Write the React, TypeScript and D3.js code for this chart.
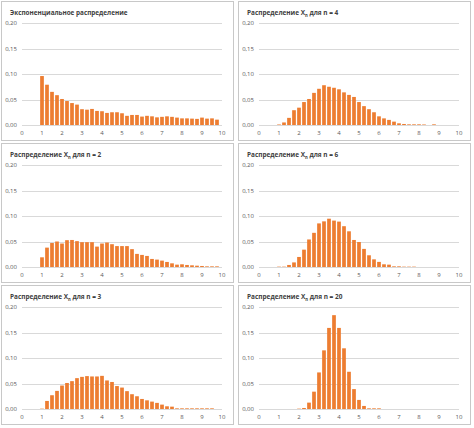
import React, { useLayoutEffect, useRef, useState } from "react";
import * as d3 from "d3";

const bins = [1, 1.25, 1.5, 1.75, 2, 2.25, 2.5, 2.75, 3, 3.25, 3.5, 3.75, 4, 4.25, 4.5, 4.75, 5, 5.25, 5.5, 5.75, 6, 6.25, 6.5, 6.75, 7, 7.25, 7.5, 7.75, 8, 8.25, 8.5, 8.75, 9, 9.25, 9.5, 9.75];

const expValues = [0.096, 0.079, 0.065, 0.0585, 0.051, 0.047, 0.043, 0.040, 0.031, 0.030, 0.0315, 0.0276, 0.027, 0.0237, 0.025, 0.025, 0.023, 0.018, 0.0197, 0.0197, 0.0165, 0.018, 0.017, 0.015, 0.016, 0.017, 0.016, 0.0145, 0.013, 0.013, 0.0125, 0.012, 0.0145, 0.0125, 0.013, 0.0105];
const n2Values = [0.019, 0.038, 0.047, 0.050, 0.046, 0.0526, 0.053, 0.0507, 0.0487, 0.0487, 0.0487, 0.040, 0.046, 0.048, 0.0447, 0.041, 0.041, 0.041, 0.035, 0.0257, 0.0237, 0.0217, 0.0158, 0.0145, 0.0125, 0.0099, 0.0072, 0.0046, 0.0053, 0.004, 0.0033, 0.0026, 0.002, 0.0013, 0.0013, 0.0013];
const n3Values = [0.0007, 0.0158, 0.027, 0.0355, 0.046, 0.051, 0.0546, 0.0605, 0.063, 0.0645, 0.0638, 0.0638, 0.065, 0.056, 0.053, 0.045, 0.042, 0.035, 0.029, 0.025, 0.0197, 0.017, 0.0145, 0.012, 0.0086, 0.0053, 0.0046, 0.0013, 0.0013, 0.0013, 0.0013, 0.0013, 0.0013, 0.0013, 0.0013, 0];
const n4Values = [0.001, 0.005, 0.014, 0.029, 0.034, 0.045, 0.051, 0.063, 0.071, 0.078, 0.075, 0.073, 0.070, 0.064, 0.059, 0.055, 0.045, 0.037, 0.031, 0.025, 0.017, 0.013, 0.010, 0.0066, 0.0033, 0.002, 0.0013, 0.0013, 0.0013, 0.001, 0, 0.0013, 0, 0, 0, 0];
const n6Values = [0.0007, 0.0007, 0.004, 0.009, 0.0197, 0.034, 0.054, 0.067, 0.0855, 0.0895, 0.0947, 0.091, 0.089, 0.080, 0.070, 0.053, 0.049, 0.0355, 0.023, 0.015, 0.010, 0.0053, 0.0046, 0.0013, 0.0013, 0.0007, 0.0007, 0.0007, 0, 0, 0, 0, 0, 0, 0, 0];
const n20Values = [0, 0, 0, 0, 0.0007, 0.002, 0.0125, 0.034, 0.0717, 0.115, 0.159, 0.184, 0.159, 0.119, 0.073, 0.039, 0.0178, 0.006, 0.0013, 0.0013, 0.0013, 0, 0, 0, 0, 0, 0, 0, 0, 0, 0, 0, 0, 0, 0, 0];

const xTicks = [0, 1, 2, 3, 4, 5, 6, 7, 8, 9, 10];
const yTicks = [0, 0.05, 0.1, 0.15, 0.2];

type PanelDef = { title: string | null; n: string | null; values: number[]; titleWidth: number };
const panels: PanelDef[] = [
  { title: "Экспоненциальное распределение", n: null, values: expValues, titleWidth: 118 },
  { title: null, n: "4", values: n4Values, titleWidth: 92 },
  { title: null, n: "2", values: n2Values, titleWidth: 92 },
  { title: null, n: "6", values: n6Values, titleWidth: 92 },
  { title: null, n: "3", values: n3Values, titleWidth: 92 },
  { title: null, n: "20", values: n20Values, titleWidth: 96 },
];

const W = 474;
const H = 428;
const colX = [1, 238];
const rowY = [1, 143, 285];
const PW = 232;
const PH = 139;

const FONT = "'Open Sans', sans-serif";
const BAR = "#ED7D31";
const TITLE_SIZE = 7.6;

function Title({ def }: { def: PanelDef }) {
  const ref = useRef<SVGTextElement>(null);
  const [sx, setSx] = useState(1);
  useLayoutEffect(() => {
    if (!ref.current) return;
    const w = ref.current.getBBox().width;
    if (w > 0) setSx(def.titleWidth / w);
  }, [def.titleWidth]);
  const s = TITLE_SIZE;
  return (
    <text ref={ref} transform={`translate(9,14) scale(${sx},1)`} fontFamily={FONT} fontSize={s} fontWeight={700} fill="#404040">
      {def.title ? (
        def.title
      ) : (
        <>
          {"Распределение X"}
          <tspan fontSize={s * 0.65} dy={s * 0.2}>n</tspan>
          <tspan dy={-s * 0.2}>{` для n = ${def.n}`}</tspan>
        </>
      )}
    </text>
  );
}

function Panel({ def, x0, y0 }: { def: PanelDef; x0: number; y0: number }) {
  const xs = d3.scaleLinear().domain([0, 10]).range([21, 221]);
  const ys = d3.scaleLinear().domain([0, 0.2]).range([124, 22]);
  const fmt = (v: number) => d3.format(".2f")(v).replace(".", ",");
  const step = xs(0.25) - xs(0);
  const bw = step * 0.74;
  return (
    <g transform={`translate(${x0},${y0})`}>
      <rect x={0.5} y={0.5} width={PW} height={PH} fill="#fff" stroke="#c8c8c8" strokeWidth={1} />
      <Title def={def} />
      {yTicks.map((t) => (
        <g key={t}>
          <line x1={xs(0)} x2={xs(10)} y1={Math.round(ys(t)) + 0.5} y2={Math.round(ys(t)) + 0.5} stroke="#d9d9d9" strokeWidth={1} />
          <text x={16} y={ys(t)} dy="0.35em" textAnchor="end" fontFamily={FONT} fontSize={6} fill="#595959">
            {fmt(t)}
          </text>
        </g>
      ))}
      {bins.map((b, i) => {
        const v = def.values[i];
        if (!v) return null;
        const y = ys(v);
        return <rect key={b} x={xs(b) - bw / 2} y={y} width={bw} height={ys(0) - y} fill={BAR} />;
      })}
      {xTicks.map((t) => (
        <text key={t} x={xs(t)} y={132} dy="0.35em" textAnchor="middle" fontFamily={FONT} fontSize={6} fill="#595959">
          {t}
        </text>
      ))}
    </g>
  );
}

export default function App() {
  return (
    <svg width={W} height={H} style={{ position: "absolute", left: 0, top: 0, background: "#fff" }}>
      <rect width={W} height={H} fill="#fff" />
      {panels.map((p, i) => (
        <Panel key={i} def={p} x0={colX[i % 2]} y0={rowY[Math.floor(i / 2)]} />
      ))}
    </svg>
  );
}
